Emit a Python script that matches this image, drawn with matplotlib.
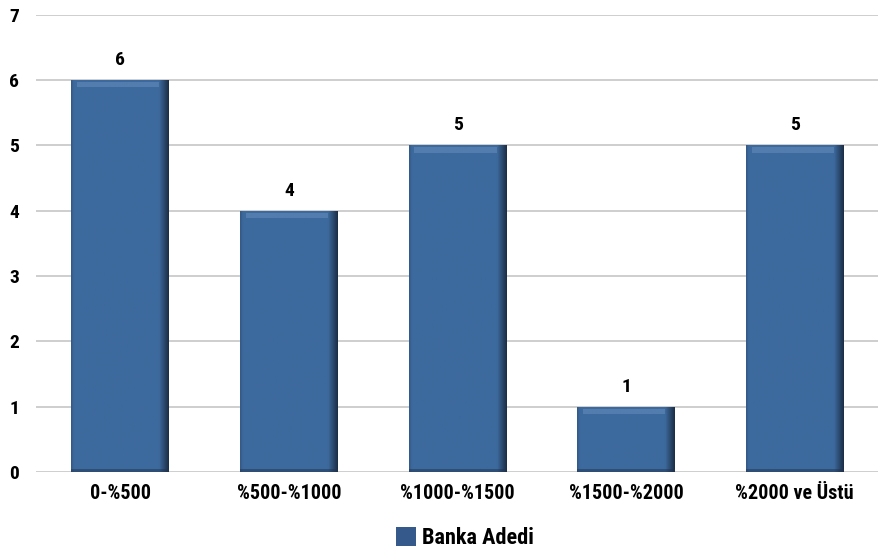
import numpy as np
import matplotlib
matplotlib.use("Agg")
import matplotlib.pyplot as plt
from matplotlib.patches import Patch

categories = ["0-%500", "%500-%1000", "%1000-%1500", "%1500-%2000", "%2000 ve Üstü"]
banka_adedi = [6, 4, 5, 1, 5]
y_ticks = [0, 1, 2, 3, 4, 5, 6, 7]
legend_label = "Banka Adedi"

plt.rcParams["font.family"] = ["Roboto Condensed", "DejaVu Sans"]
plt.rcParams["font.weight"] = "bold"

fig = plt.figure(figsize=(8.79, 5.53), dpi=100)
ax = fig.add_axes([0.041, 0.1465, 0.959, 0.827])

x = np.arange(len(categories))
bars = ax.bar(x, banka_adedi, width=0.58, color="#3d6a9e", zorder=2)

# horizontal shading: flat body, dark right edge, faint dark left edge
t = np.linspace(0, 1, 300)
shade = np.clip((t - 0.9) / 0.1, 0, 1) * 0.9 + np.clip((0.03 - t) / 0.03, 0, 1) * 0.25
base = np.array([0x3d, 0x6a, 0x9e]) / 255
dark = np.array([0x18, 0x26, 0x3c]) / 255
img = base[None, :] * (1 - shade[:, None]) + dark[None, :] * shade[:, None]
img = img[None, :, :]
for b in bars:
    x0, y0 = b.get_x(), b.get_y()
    w, h = b.get_width(), b.get_height()
    im = ax.imshow(img, extent=[x0, x0 + w, y0, y0 + h], aspect="auto", zorder=3,
                   interpolation="bilinear")
    im.set_clip_path(b)
    # light bevel near the top, darker band at the bottom
    ax.fill_between([x0 + w * 0.06, x0 + w * 0.9], y0 + h - 0.11, y0 + h - 0.03,
                    color="#7ea2cc", alpha=0.35, zorder=4, linewidth=0)
    ax.fill_between([x0, x0 + w], y0, y0 + 0.05,
                    color="#22344f", alpha=0.5, zorder=4, linewidth=0)

for xi, v in zip(x, banka_adedi):
    ax.annotate(str(v), (xi, v), xytext=(0, 8), textcoords="offset points",
                ha="center", va="bottom", fontsize=14, fontweight="bold")

ax.set_xlim(-0.5, len(categories) - 0.5)
ax.set_ylim(0, 7)
ax.set_yticks(y_ticks)
ax.set_xticks(x)
ax.set_xticklabels(categories)
ax.tick_params(axis="y", length=0, labelsize=14, pad=12)
ax.tick_params(axis="x", length=0, labelsize=14.5, pad=9)
ax.grid(axis="y", color="#c6c6c6", linewidth=1.2, zorder=0)
ax.set_axisbelow(True)
for s in ax.spines.values():
    s.set_visible(False)

fig.legend(handles=[Patch(facecolor="#34598a", label=legend_label)],
           loc="center", bbox_to_anchor=(0.529, 0.027), frameon=False,
           fontsize=16, handlelength=0.9, handleheight=0.9, handletextpad=0.3,
           borderpad=0, borderaxespad=0)

fig.savefig("out.png", dpi=100)
